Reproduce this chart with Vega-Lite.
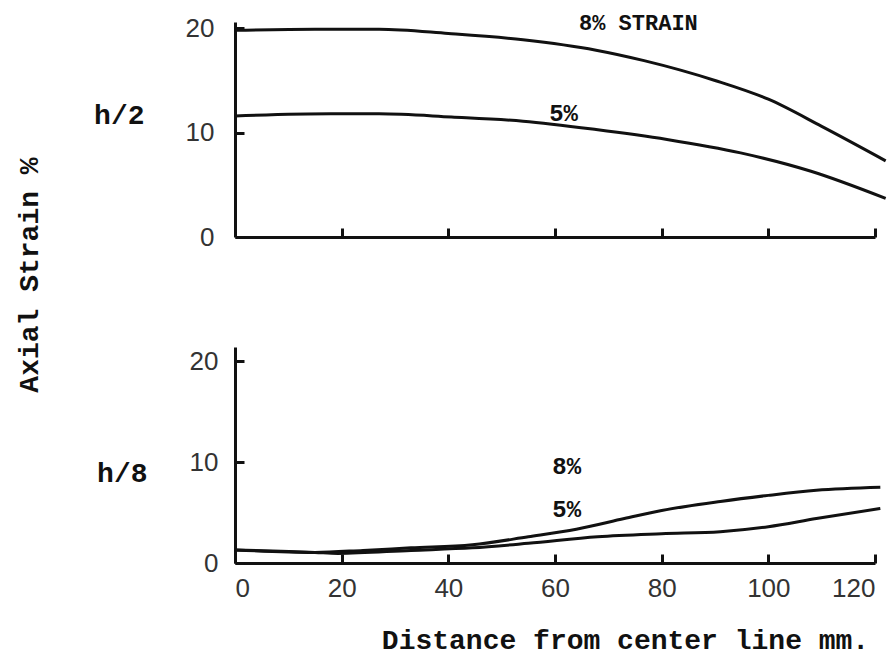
{
  "$schema": "https://vega.github.io/schema/vega-lite/v6.json",
  "background": "white",
  "padding": {"left": 15, "top": 12, "right": 5, "bottom": 2},
  "title": {"text": "Axial Strain %", "orient": "left", "anchor": "middle", "font": "Liberation Mono", "fontWeight": "bold", "fontSize": 28, "color": "#111", "offset": 50, "dx": 58},
  "config": {
    "view": {"stroke": null},
    "axis": {
      "domainColor": "#111", "domainWidth": 3, "tickColor": "#111", "tickWidth": 3, "tickSize": -9,
      "labelFont": "Liberation Sans", "labelFontSize": 26, "labelColor": "#333", "grid": false,
      "titleFont": "Liberation Mono", "titleFontWeight": "bold", "titleFontSize": 28, "titleColor": "#111"
    }
  },
  "datasets": {
    "top": [
      {"d": 0, "strain": 19.8, "series": "8%"}, {"d": 15, "strain": 19.9, "series": "8%"}, {"d": 27, "strain": 19.9, "series": "8%"},
      {"d": 40, "strain": 19.5, "series": "8%"}, {"d": 54, "strain": 18.9, "series": "8%"}, {"d": 67.7, "strain": 17.9, "series": "8%"},
      {"d": 76.7, "strain": 16.9, "series": "8%"}, {"d": 90, "strain": 15.0, "series": "8%"}, {"d": 100, "strain": 13.2, "series": "8%"},
      {"d": 110, "strain": 10.6, "series": "8%"}, {"d": 122, "strain": 7.3, "series": "8%"},
      {"d": 0, "strain": 11.6, "series": "5%"}, {"d": 18, "strain": 11.8, "series": "5%"}, {"d": 27, "strain": 11.8, "series": "5%"},
      {"d": 40.6, "strain": 11.5, "series": "5%"}, {"d": 54, "strain": 11.1, "series": "5%"}, {"d": 67.7, "strain": 10.3, "series": "5%"},
      {"d": 81, "strain": 9.35, "series": "5%"}, {"d": 94.8, "strain": 8.06, "series": "5%"}, {"d": 108, "strain": 6.3, "series": "5%"},
      {"d": 122, "strain": 3.7, "series": "5%"}
    ],
    "bottom": [
      {"d": 0, "strain": 1.3, "series": "8%"}, {"d": 15, "strain": 1.05, "series": "8%"}, {"d": 24, "strain": 1.25, "series": "8%"},
      {"d": 33, "strain": 1.5, "series": "8%"}, {"d": 44.5, "strain": 1.8, "series": "8%"}, {"d": 55, "strain": 2.6, "series": "8%"},
      {"d": 64, "strain": 3.35, "series": "8%"}, {"d": 73, "strain": 4.4, "series": "8%"}, {"d": 80, "strain": 5.2, "series": "8%"},
      {"d": 91, "strain": 6.1, "series": "8%"}, {"d": 100, "strain": 6.7, "series": "8%"}, {"d": 109, "strain": 7.2, "series": "8%"},
      {"d": 121, "strain": 7.5, "series": "8%"},
      {"d": 0, "strain": 1.3, "series": "5%"}, {"d": 15, "strain": 1.05, "series": "5%"}, {"d": 19.3, "strain": 0.95, "series": "5%"},
      {"d": 33, "strain": 1.25, "series": "5%"}, {"d": 44.5, "strain": 1.5, "series": "5%"}, {"d": 55, "strain": 1.95, "series": "5%"},
      {"d": 68, "strain": 2.6, "series": "5%"}, {"d": 80, "strain": 2.9, "series": "5%"}, {"d": 91, "strain": 3.1, "series": "5%"},
      {"d": 100, "strain": 3.6, "series": "5%"}, {"d": 109, "strain": 4.4, "series": "5%"}, {"d": 121, "strain": 5.4, "series": "5%"}
    ],
    "topLabels": [
      {"d": 64.5, "strain": 20.5, "label": "8% STRAIN", "size": 22},
      {"d": 58.9, "strain": 11.8, "label": "5%", "size": 24}
    ],
    "bottomLabels": [
      {"d": 59.5, "strain": 9.5, "label": "8%", "size": 24},
      {"d": 59.5, "strain": 5.25, "label": "5%", "size": 24}
    ]
  },
  "spacing": 97,
  "vconcat": [
    {
      "width": 640,
      "height": 215,
      "layer": [
        {
          "data": {"name": "top"},
          "mark": {"type": "line", "interpolate": "monotone", "color": "#111", "strokeWidth": 3, "clip": false},
          "encoding": {
            "x": {"field": "d", "type": "quantitative", "scale": {"domain": [0, 120], "nice": false},
                  "axis": {"values": [20, 40, 60, 80, 100, 120], "labels": false, "title": null}},
            "y": {"field": "strain", "type": "quantitative", "scale": {"domain": [0, 20.6], "nice": false},
                  "axis": {"values": [0, 10, 20], "labelPadding": 30, "title": "h/2", "titleAngle": 0, "titleAlign": "right", "titleBaseline": "middle", "titleX": -91, "titleY": 93}},
            "detail": {"field": "series"}
          }
        },
        {
          "data": {"name": "topLabels"},
          "mark": {"type": "text", "align": "left", "baseline": "middle", "font": "Liberation Mono", "fontWeight": "bold", "color": "#111"},
          "encoding": {
            "x": {"field": "d", "type": "quantitative"},
            "y": {"field": "strain", "type": "quantitative"},
            "text": {"field": "label"},
            "size": {"field": "size", "type": "quantitative", "scale": null, "legend": null}
          }
        }
      ]
    },
    {
      "width": 640,
      "height": 216,
      "layer": [
        {
          "data": {"name": "bottom"},
          "mark": {"type": "line", "interpolate": "monotone", "color": "#111", "strokeWidth": 3, "clip": false},
          "encoding": {
            "x": {"field": "d", "type": "quantitative", "scale": {"domain": [0, 120], "nice": false},
                  "axis": {"values": [0, 20, 40, 60, 80, 100, 120], "labelPadding": 21, "title": "Distance from center line mm.", "titleAlign": "center", "titleBaseline": "middle", "titleX": 390, "titleY": 77}},
            "y": {"field": "strain", "type": "quantitative", "scale": {"domain": [0, 21.4], "nice": false},
                  "axis": {"values": [0, 10, 20], "labelPadding": 26, "title": "h/8", "titleAngle": 0, "titleAlign": "right", "titleBaseline": "middle", "titleX": -88, "titleY": 126}},
            "detail": {"field": "series"}
          }
        },
        {
          "data": {"name": "bottomLabels"},
          "mark": {"type": "text", "align": "left", "baseline": "middle", "font": "Liberation Mono", "fontWeight": "bold", "color": "#111"},
          "encoding": {
            "x": {"field": "d", "type": "quantitative"},
            "y": {"field": "strain", "type": "quantitative"},
            "text": {"field": "label"},
            "size": {"field": "size", "type": "quantitative", "scale": null, "legend": null}
          }
        }
      ]
    }
  ]
}
